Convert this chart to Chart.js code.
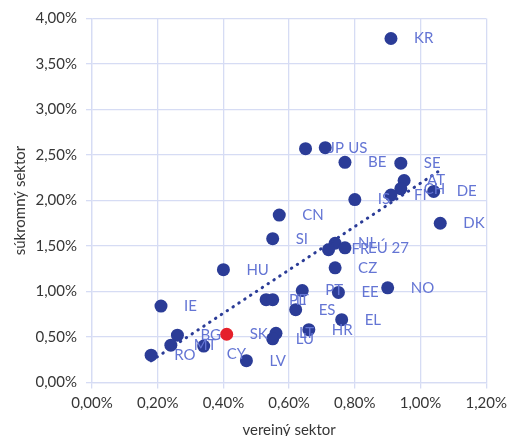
<!DOCTYPE html>
<html>
<head>
<meta charset="utf-8">
<script src="https://cdn.jsdelivr.net/npm/chart.js@4.4.0/dist/chart.umd.min.js"></script>
<style>
  html, body { margin: 0; padding: 0; background: #fff; }
  #wrap { width: 513px; height: 436px; position: relative; }
</style>
</head>
<body>
<div id="wrap"><canvas id="rdChart"></canvas></div>
<script>
// krajiny a výdavky na VaV (% HDP)
const countries = ['KR', 'JP', 'US', 'BE', 'SE', 'AT', 'CH', 'DE', 'FI', 'IS', 'DK', 'CN', 'SI', 'NL', 'EÚ 27', 'FR', 'CZ', 'HU', 'NO', 'PT', 'EE', 'PL', 'IT', 'ES', 'IE', 'EL', 'HR', 'LT', 'LU', 'SK', 'BG', 'MT', 'CY', 'LV', 'RO'];
const publicRD = [0.91, 0.65, 0.71, 0.77, 0.94, 0.95, 0.94, 1.04, 0.91, 0.80, 1.06, 0.57, 0.55, 0.74, 0.77, 0.72, 0.74, 0.40, 0.90, 0.64, 0.75, 0.53, 0.55, 0.62, 0.21, 0.76, 0.66, 0.56, 0.55, 0.41, 0.26, 0.24, 0.34, 0.47, 0.18];
const privateRD = [3.78, 2.57, 2.58, 2.42, 2.41, 2.22, 2.13, 2.10, 2.06, 2.01, 1.75, 1.84, 1.58, 1.53, 1.48, 1.46, 1.26, 1.24, 1.04, 1.01, 0.99, 0.91, 0.91, 0.80, 0.84, 0.69, 0.58, 0.54, 0.48, 0.53, 0.52, 0.41, 0.40, 0.24, 0.30];
const highlight = 'SK';

const BLUE = '#2b3c97';
const RED = '#e5202b';
const LABEL_BLUE = '#6475d4';
const GRID = '#d6dcf4';
const TEXT = '#363636';
const FONT = 'Lato, "Open Sans", sans-serif';

// label nudges (px, vertical) where the original moved a label
const labelShift = { 'CY': 8 };

// least squares line, like the Excel trendline
function linearFit(xs, ys) {
  const n = xs.length;
  const mx = xs.reduce((a, b) => a + b, 0) / n;
  const my = ys.reduce((a, b) => a + b, 0) / n;
  let sxy = 0, sxx = 0;
  for (let i = 0; i < n; i++) {
    sxy += (xs[i] - mx) * (ys[i] - my);
    sxx += (xs[i] - mx) * (xs[i] - mx);
  }
  const slope = sxy / sxx;
  return { slope, intercept: my - slope * mx };
}

const fit = linearFit(publicRD, privateRD);
const xMin = Math.min(...publicRD);
const xMax = Math.max(...publicRD);
const trendData = [
  { x: xMin, y: fit.intercept + fit.slope * xMin },
  { x: xMax, y: fit.intercept + fit.slope * xMax }
];

const pctFmt = v => v.toFixed(2).replace('.', ',') + '%';

const pointLabels = {
  id: 'pointLabels',
  afterDatasetsDraw(chart) {
    const meta = chart.getDatasetMeta(0);
    const ctx = chart.ctx;
    ctx.save();
    ctx.font = '15px ' + FONT;
    ctx.fillStyle = LABEL_BLUE;
    ctx.textAlign = 'left';
    ctx.textBaseline = 'middle';
    meta.data.forEach((pt, i) => {
      const dy = labelShift[countries[i]] || 0;
      ctx.fillText(countries[i], pt.x + 23, pt.y + dy);
    });
    ctx.restore();
  }
};

const ctx = document.getElementById('rdChart').getContext('2d');
new Chart(ctx, {
  type: 'scatter',
  data: {
    datasets: [
      {
        label: 'krajiny',
        data: countries.map((c, i) => ({ x: publicRD[i], y: privateRD[i] })),
        pointRadius: 6.5,
        pointHoverRadius: 6.5,
        pointBorderWidth: 0,
        pointBackgroundColor: countries.map(c => c === highlight ? RED : BLUE),
        order: 1
      },
      {
        type: 'line',
        label: 'trend',
        data: trendData,
        borderColor: BLUE,
        borderWidth: 3,
        borderDash: [0.5, 6.5],
        borderCapStyle: 'round',
        pointRadius: 0,
        fill: false,
        order: 0
      }
    ]
  },
  options: {
    responsive: true,
    maintainAspectRatio: false,
    animation: false,
    layout: { padding: { top: 18.5, right: 22, bottom: 0, left: 0 } },
    plugins: {
      legend: { display: false },
      tooltip: { enabled: false }
    },
    scales: {
      x: {
        type: 'linear',
        min: 0,
        max: 1.2,
        afterFit: s => { s.height = 53.5; },
        ticks: { stepSize: 0.2, callback: pctFmt, color: TEXT, font: { family: FONT, size: 15 }, padding: 6, maxRotation: 0 },
        grid: { color: GRID, lineWidth: 1.3, tickLength: 6, tickColor: GRID },
        border: { color: GRID, width: 1.3 },
        title: { display: true, text: 'vereiný sektor', color: TEXT, font: { family: FONT, size: 15, lineHeight: 1 }, padding: { top: 0, bottom: -2 } }
      },
      y: {
        type: 'linear',
        min: 0,
        max: 4,
        afterFit: s => { s.width = 92; },
        ticks: { stepSize: 0.5, callback: pctFmt, color: TEXT, font: { family: FONT, size: 15 }, padding: 9 },
        grid: { color: GRID, lineWidth: 1.3, tickLength: 6, tickColor: GRID },
        border: { color: GRID, width: 1.3 },
        title: { display: true, text: 'súkromný sektor', color: TEXT, font: { family: FONT, size: 15, lineHeight: 1.2 }, padding: { top: 11, bottom: 0 } }
      }
    }
  },
  plugins: [pointLabels]
});
</script>
</body>
</html>
